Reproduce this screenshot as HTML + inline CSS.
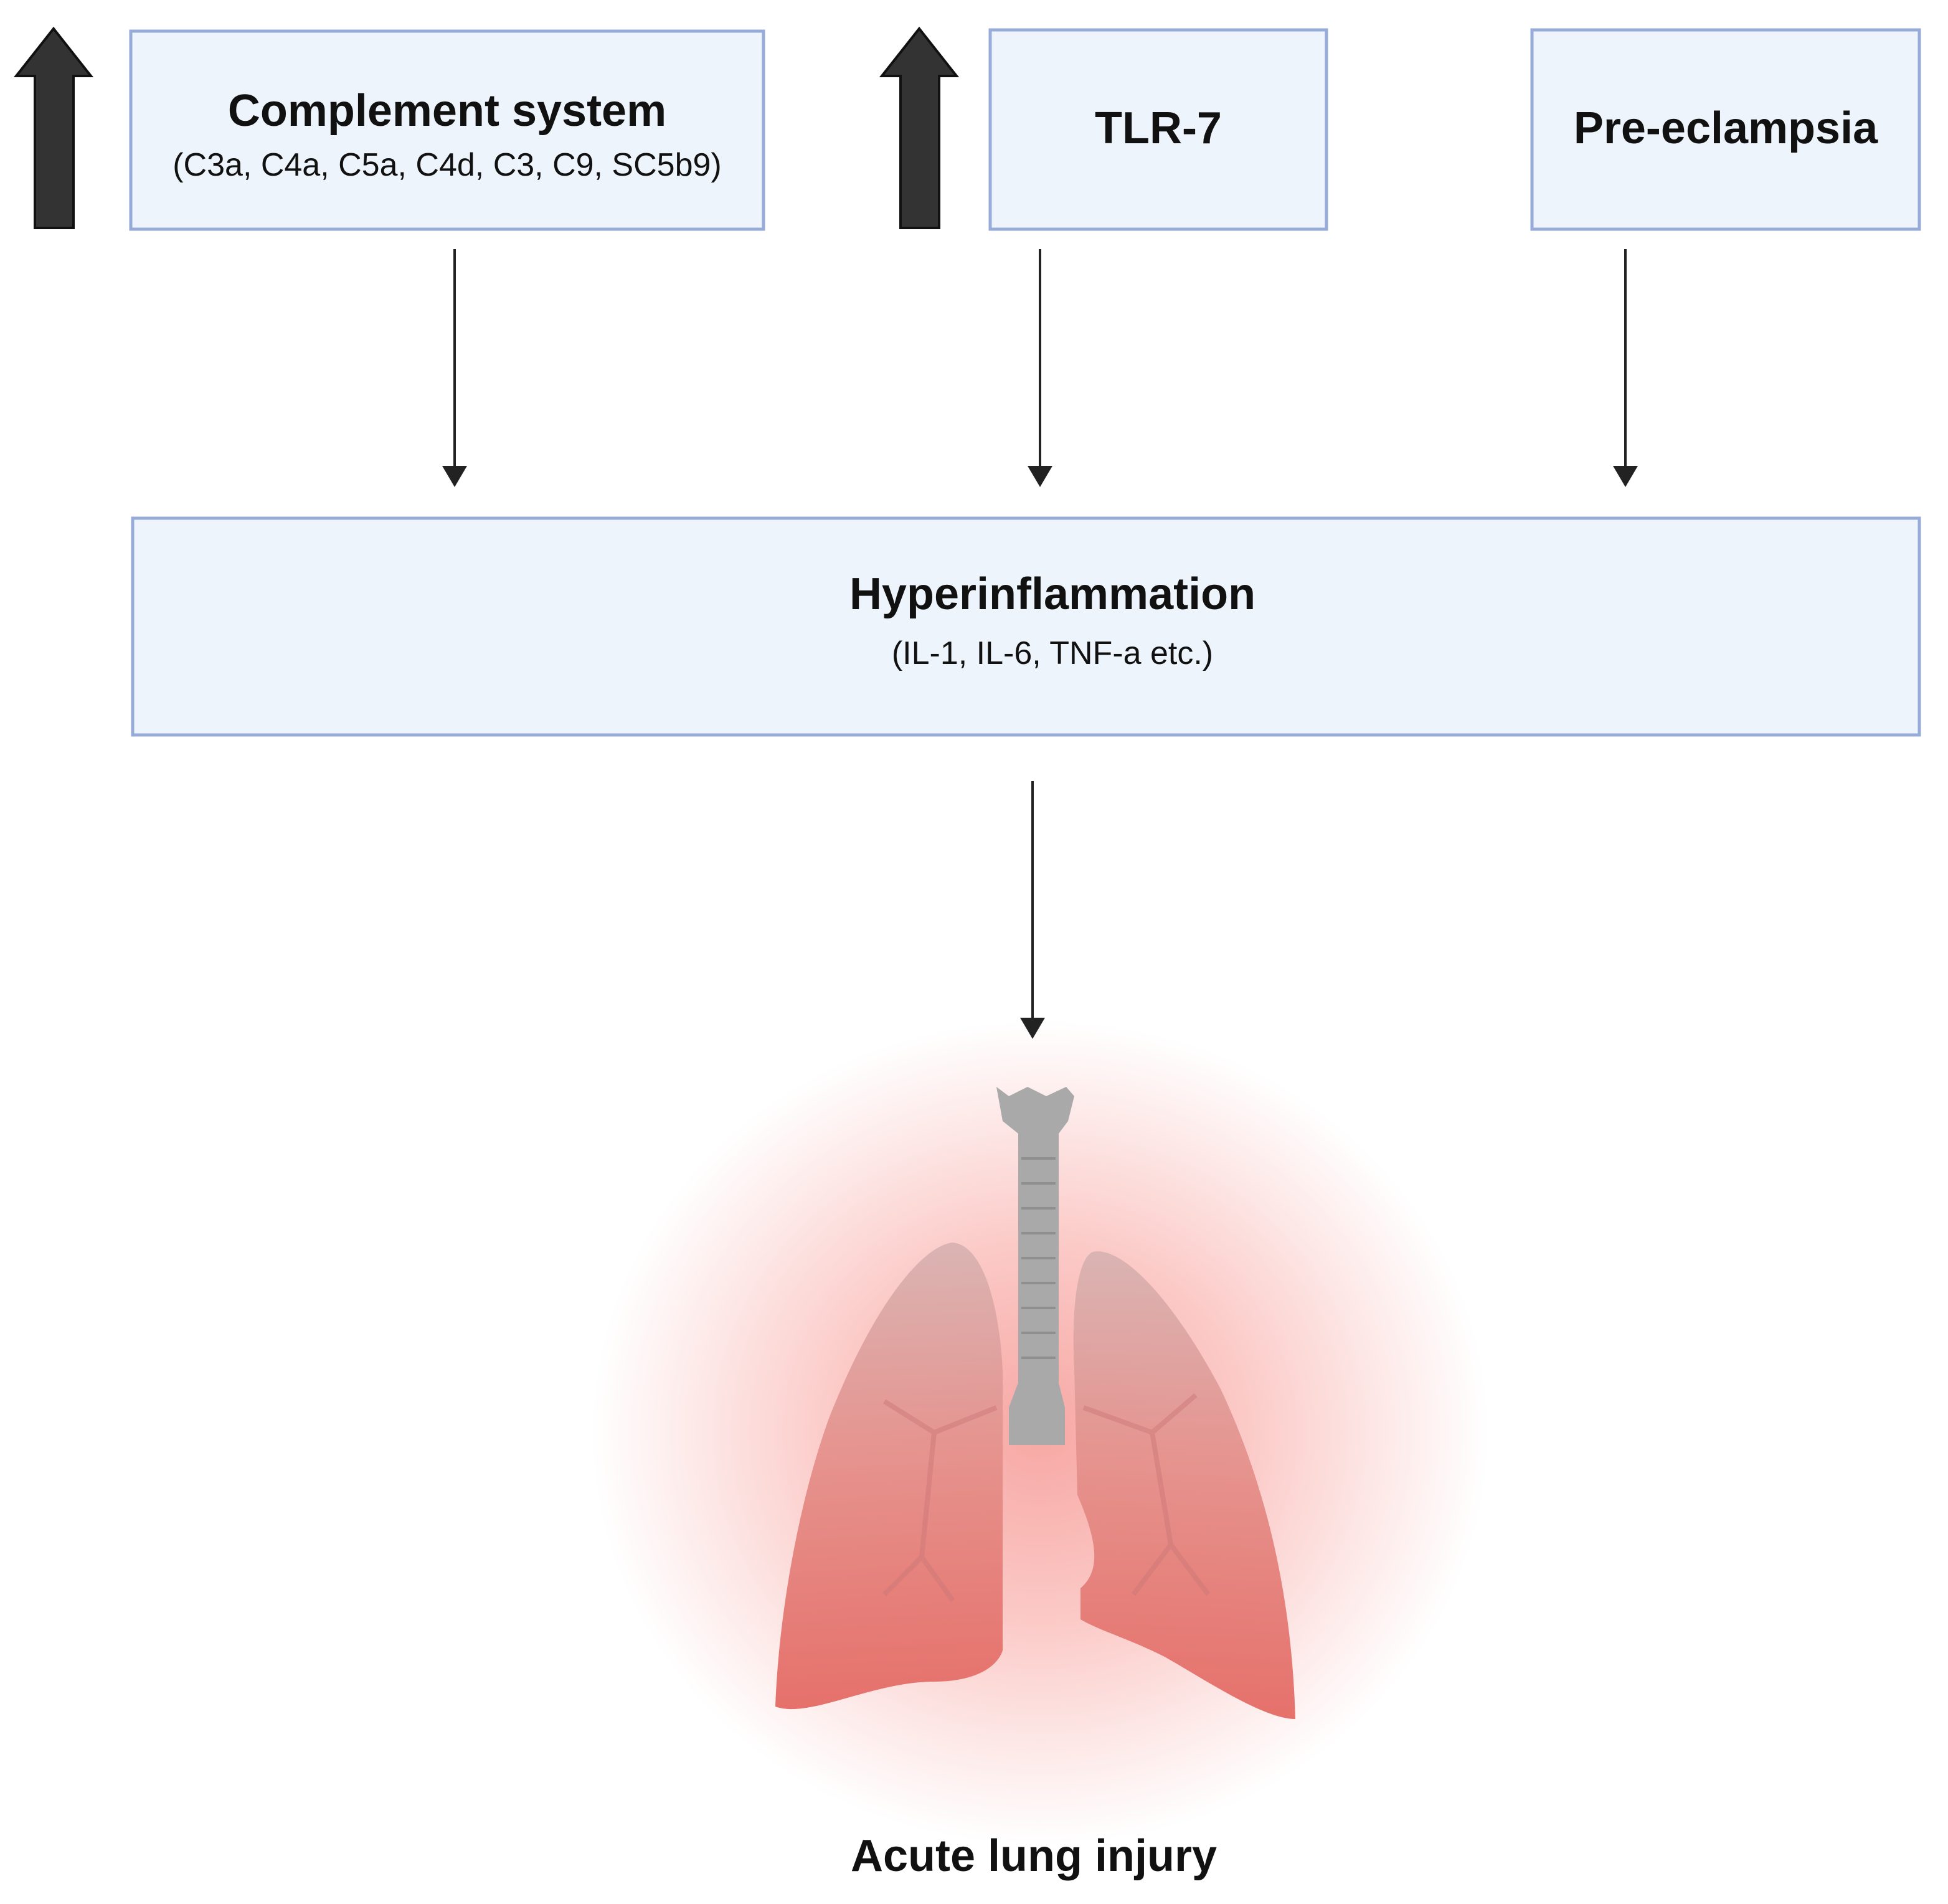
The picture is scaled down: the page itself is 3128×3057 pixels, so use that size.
<!DOCTYPE html>
<html><head><meta charset="utf-8"><style>
html,body{margin:0;padding:0;background:#fff}
svg{display:block}
text{font-family:"Liberation Sans",sans-serif;fill:#111}
</style></head><body>
<svg width="3128" height="3057" viewBox="0 0 3128 3057" xmlns="http://www.w3.org/2000/svg">
<defs>
<radialGradient id="glow" cx="1670" cy="2300" r="720" gradientUnits="userSpaceOnUse" gradientTransform="translate(1670 2300) scale(1 0.92) translate(-1670 -2300)">
<stop offset="0" stop-color="#f7a8a4"/><stop offset="0.45" stop-color="#fbc9c6"/><stop offset="0.8" stop-color="#fdeceb"/><stop offset="1" stop-color="#fff"/>
</radialGradient>
<linearGradient id="lung" x1="0" y1="0" x2="0" y2="1">
<stop offset="0" stop-color="#d8b3b2"/><stop offset="0.45" stop-color="#e5918c"/><stop offset="1" stop-color="#e56a64"/>
</linearGradient>
</defs>
<rect width="3128" height="3057" fill="#fff"/>
<!-- glow -->
<ellipse cx="1670" cy="2300" rx="720" ry="660" fill="url(#glow)"/>
<!-- big up arrows -->
<polygon points="86,46 146,122 118,122 118,366 56,366 56,122 26,122" fill="#333" stroke="#111" stroke-width="4"/>
<polygon points="1476,46 1536,122 1508,122 1508,366 1446,366 1446,122 1416,122" fill="#333" stroke="#111" stroke-width="4"/>
<!-- boxes -->
<rect x="210" y="50" width="1016" height="318" fill="#eef4fb" stroke="#97abd8" stroke-width="5"/>
<text x="718" y="202" font-size="72" font-weight="bold" text-anchor="middle">Complement system</text>
<text x="718" y="282" font-size="52" text-anchor="middle">(C3a, C4a, C5a, C4d, C3, C9, SC5b9)</text>
<rect x="1590" y="48" width="540" height="320" fill="#eef4fb" stroke="#97abd8" stroke-width="5"/>
<text x="1860" y="230" font-size="72" font-weight="bold" text-anchor="middle">TLR-7</text>
<rect x="2460" y="48" width="622" height="320" fill="#eef4fb" stroke="#97abd8" stroke-width="5"/>
<text x="2771" y="230" font-size="72" font-weight="bold" text-anchor="middle">Pre-eclampsia</text>
<!-- down connectors -->
<g stroke="#222" stroke-width="4">
<line x1="730" y1="400" x2="730" y2="750"/><line x1="1670" y1="400" x2="1670" y2="750"/><line x1="2610" y1="400" x2="2610" y2="750"/><line x1="1658" y1="1254" x2="1658" y2="1636"/>
</g>
<g fill="#222">
<polygon points="710,748 750,748 730,782"/><polygon points="1650,748 1690,748 1670,782"/><polygon points="2590,748 2630,748 2610,782"/><polygon points="1638,1634 1678,1634 1658,1668"/>
</g>
<rect x="213" y="832" width="2869" height="348" fill="#eef4fb" stroke="#97abd8" stroke-width="5"/>
<text x="1690" y="978" font-size="72" font-weight="bold" text-anchor="middle">Hyperinflammation</text>
<text x="1690" y="1066" font-size="52" text-anchor="middle">(IL-1, IL-6, TNF-a etc.)</text>
<!-- lungs -->
<path d="M1530,1995 C1480,2000 1400,2100 1330,2280 C1280,2420 1250,2600 1245,2740 C1300,2760 1400,2700 1500,2700 C1560,2700 1600,2680 1610,2650 L1610,2200 C1605,2100 1580,2000 1530,1995 Z" fill="url(#lung)" opacity="0.95"/>
<path d="M1755,2010 C1800,2000 1880,2080 1960,2230 C2040,2400 2075,2580 2080,2760 C2030,2760 1940,2700 1870,2660 C1810,2630 1770,2620 1735,2600 L1735,2550 C1770,2520 1760,2470 1730,2400 L1725,2200 C1720,2100 1730,2020 1755,2010 Z" fill="url(#lung)" opacity="0.95"/>
<!-- trachea -->
<path d="M1600,1745 L1620,1760 L1650,1745 L1680,1760 L1712,1745 L1725,1760 L1715,1800 L1700,1820 L1700,2220 L1710,2260 L1710,2320 L1620,2320 L1620,2260 L1635,2220 L1635,1820 L1610,1800 Z" fill="#a9a9a9"/>
<g stroke="#8f8f8f" stroke-width="4">
<line x1="1640" y1="1860" x2="1695" y2="1860"/><line x1="1640" y1="1900" x2="1695" y2="1900"/><line x1="1640" y1="1940" x2="1695" y2="1940"/><line x1="1640" y1="1980" x2="1695" y2="1980"/><line x1="1640" y1="2020" x2="1695" y2="2020"/><line x1="1640" y1="2060" x2="1695" y2="2060"/><line x1="1640" y1="2100" x2="1695" y2="2100"/><line x1="1640" y1="2140" x2="1695" y2="2140"/><line x1="1640" y1="2180" x2="1695" y2="2180"/>
</g>
<g stroke="#c77" stroke-width="8" fill="none" opacity="0.5">
<path d="M1600,2260 L1500,2300 L1420,2250 M1500,2300 L1480,2500 L1420,2560 M1480,2500 L1530,2570"/>
<path d="M1740,2260 L1850,2300 L1920,2240 M1850,2300 L1880,2480 L1940,2560 M1880,2480 L1820,2560"/>
</g>
<text x="1660" y="3004" font-size="72" font-weight="bold" text-anchor="middle">Acute lung injury</text>
</svg>
</body></html>
